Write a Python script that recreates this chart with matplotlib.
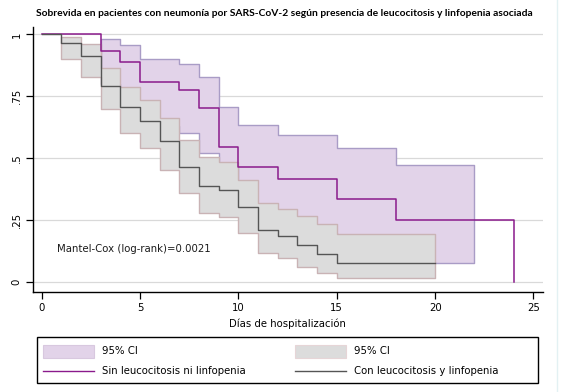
import matplotlib.pyplot as plt
from matplotlib.patches import Rectangle
from matplotlib.lines import Line2D

# Sin leucocitosis ni linfopenia (purpura)
t_sin = [0, 3, 4, 5, 7, 8, 9, 10, 12, 15, 18, 24]
s_sin = [1, 0.934, 0.887, 0.806, 0.774, 0.702, 0.547, 0.465, 0.415, 0.335, 0.25, 0]
ci_t_sin = [3, 4, 5, 7, 8, 9, 10, 12, 15, 18, 22]
ci_hi_sin = [0.98, 0.957, 0.899, 0.879, 0.827, 0.706, 0.633, 0.594, 0.543, 0.473, 0.473]
ci_lo_sin = [0.80, 0.72, 0.63, 0.601, 0.52, 0.47, 0.28, 0.20, 0.13, 0.079, 0.079]

# Con leucocitosis y linfopenia (gris)
t_con = [0, 1, 2, 3, 4, 5, 6, 7, 8, 9, 10, 11, 12, 13, 14, 15, 20]
s_con = [1, 0.964, 0.912, 0.793, 0.706, 0.650, 0.569, 0.465, 0.387, 0.371, 0.302,
         0.211, 0.187, 0.150, 0.113, 0.077, 0.077]
ci_t_con = [1, 2, 3, 4, 5, 6, 7, 8, 9, 10, 11, 12, 13, 14, 15, 20]
ci_hi_con = [0.99, 0.961, 0.863, 0.789, 0.735, 0.664, 0.572, 0.506, 0.485, 0.412,
             0.318, 0.294, 0.266, 0.235, 0.195, 0.195]
ci_lo_con = [0.899, 0.829, 0.698, 0.601, 0.540, 0.453, 0.359, 0.278, 0.265, 0.200,
             0.117, 0.099, 0.063, 0.036, 0.016, 0.016]

x_ticks = [0, 5, 10, 15, 20, 25]
y_ticks = [0, 0.25, 0.5, 0.75, 1]
y_labels = ['0', '.25', '.5', '.75', '1']

col_sin = '#8a1a8c'
fill_sin = '#e2d3e9'
edge_sin = '#a99cc6'
col_con = '#555555'
fill_con = '#dcdcdc'
edge_con = '#c9b3b5'

plt.rcParams['font.family'] = 'DejaVu Sans'

fig = plt.figure(figsize=(5.69, 3.92), dpi=100)
ax = fig.add_axes([0.0575, 0.2559, 0.8963, 0.6755])

# bandas de confianza (gris encima de purpura)
ax.fill_between(ci_t_sin, ci_lo_sin, ci_hi_sin, step='post', facecolor=fill_sin,
                edgecolor=edge_sin, linewidth=1, zorder=2)
ax.fill_between(ci_t_con, ci_lo_con, ci_hi_con, step='post', facecolor=fill_con,
                edgecolor=edge_con, linewidth=1, zorder=3)

# curvas de Kaplan-Meier (gris encima)
ax.step(t_sin, s_sin, where='post', color=col_sin, lw=1.1, zorder=4)
ax.step(t_con, s_con, where='post', color=col_con, lw=1.0, zorder=5)

ax.set_xlim(-0.46, 25.47)
ax.set_ylim(-0.038, 1.03)
ax.set_xticks(x_ticks)
ax.set_yticks(y_ticks)
ax.set_yticklabels(y_labels, rotation=90, va='center')
ax.tick_params(labelsize=7.3, length=5, width=0.9, color='black', pad=3)
ax.grid(axis='y', color='#d9d9d9', lw=0.9)
ax.set_axisbelow(True)
for s in ['top', 'right']:
    ax.spines[s].set_visible(False)
for s in ['left', 'bottom']:
    ax.spines[s].set_linewidth(1.0)

ax.set_xlabel('Días de hospitalización', fontsize=7.3, labelpad=4)
ax.text(0.76, 0.134, 'Mantel-Cox (log-rank)=0.0021', fontsize=7.3, va='center',
        color='#1a1a1a')

fig.text(0.5, 0.965, 'Sobrevida en pacientes con neumonía por SARS-CoV-2 según presencia '
         'de leucocitosis y linfopenia asociada', ha='center', va='center',
         fontsize=7.35, fontweight='bold', family='Lato')

# leyenda dibujada a mano en coordenadas de pixel
W, H = 569, 392


def px(x, y):
    return x / W, 1 - y / H


box = Rectangle(px(37.3, 383.3), (538.3 - 37.3) / W, (383.3 - 336.7) / H,
                transform=fig.transFigure, facecolor='white', edgecolor='black', lw=1)
fig.add_artist(box)
for x0, fc, ec, lc, lab in [(42.7, fill_sin, '#d8c8df', col_sin, 'Sin leucocitosis ni linfopenia'),
                            (295, fill_con, '#e6d5d7', col_con, 'Con leucocitosis y linfopenia')]:
    fig.add_artist(Rectangle(px(x0, 358.3), 51.3 / W, 13.3 / H, transform=fig.transFigure,
                             facecolor=fc, edgecolor=ec, lw=0.8))
    xa, ya = px(x0, 371)
    xb, _ = px(x0 + 51.3, 371)
    fig.add_artist(Line2D([xa, xb], [ya, ya], transform=fig.transFigure, color=lc, lw=1))
    tx, ty = px(x0 + 59, 351)
    fig.text(tx, ty, '95% CI', fontsize=7.3, va='center')
    tx, ty = px(x0 + 59, 371)
    fig.text(tx, ty, lab, fontsize=7.3, va='center')

# borde claro a la derecha
xa, _ = px(557, 0)
fig.add_artist(Line2D([xa, xa], [0, 1], transform=fig.transFigure, color='#e3f1f3', lw=1))

fig.savefig('out.png', dpi=100)
